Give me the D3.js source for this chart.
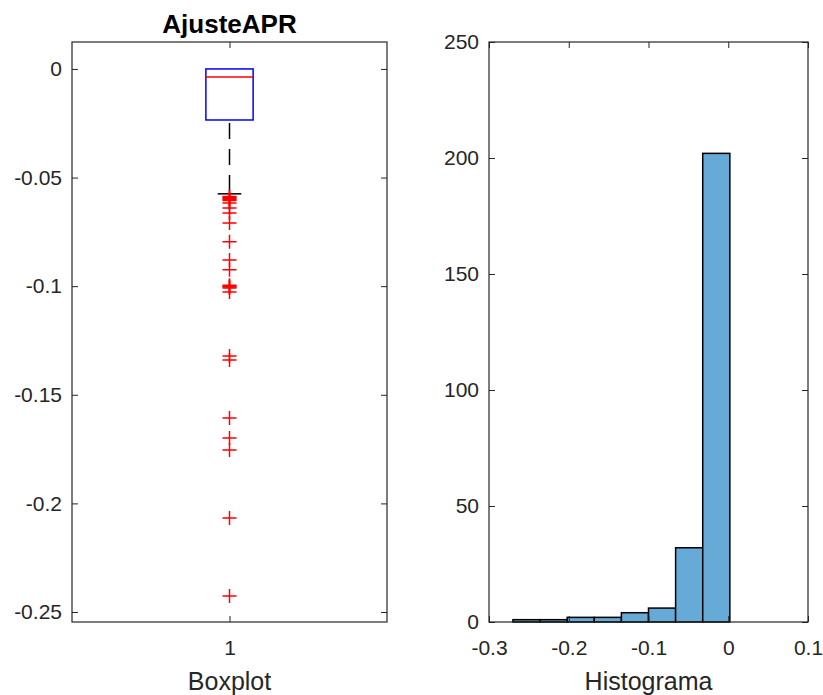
<!DOCTYPE html>
<html>
<head>
<meta charset="utf-8">
<script src="https://cdn.jsdelivr.net/npm/d3@7"></script>
<style>
  body { margin: 0; background: #fff; }
  svg { display: block; font-family: "Liberation Sans", Arial, sans-serif; }
  .frame { fill: none; stroke: #262626; stroke-width: 1.2; }
  .tick line { stroke: #262626; }
  .tick text { fill: #262626; font-size: 21px; }
  .axisText { fill: #262626; font-size: 25px; }
</style>
</head>
<body>
<div id="chart"></div>
<script>
// Boxplot summary (AjusteAPR)
var boxStats = { q1: -0.0235, median: -0.0037, q3: 0.0, whiskerLow: -0.0575, whiskerHigh: 0.0 };
var outliers = [-0.0587, -0.0591, -0.0596, -0.0601, -0.0606, -0.0617, -0.064, -0.0663, -0.0709,
  -0.0796, -0.0879, -0.0925, -0.0996, -0.1000, -0.1004, -0.1008, -0.1027, -0.1321, -0.1340,
  -0.1607, -0.1699, -0.1754, -0.2067, -0.2426];
var boxTicks = [0, -0.05, -0.1, -0.15, -0.2, -0.25];
var boxTickLabels = ["0", "-0.05", "-0.1", "-0.15", "-0.2", "-0.25"];

// Histogram bins
var binEdges = [-0.27, -0.236, -0.202, -0.168, -0.134, -0.1, -0.066, -0.032, 0.002];
var binCounts = [1, 1, 2, 2, 4, 6, 32, 202];
var histXTicks = [-0.3, -0.2, -0.1, 0, 0.1];
var histXTickLabels = ["-0.3", "-0.2", "-0.1", "0", "0.1"];
var histYTicks = [0, 50, 100, 150, 200, 250];

var svgWidth = 823, svgHeight = 695;
var plotTop = 42, plotBottom = 622;

var svg = d3.select("#chart").append("svg")
  .attr("width", svgWidth)
  .attr("height", svgHeight);

// ---------- Left: boxplot ----------
var left = { x0: 72, x1: 387 };
var xBox = d3.scaleLinear().domain([0.5, 1.5]).range([left.x0, left.x1]);
var yBox = d3.scaleLinear().domain([-0.2546, 0.0124]).range([plotBottom, plotTop]);

var g1 = svg.append("g");

g1.append("g")
  .attr("transform", `translate(${left.x0},0)`)
  .call(d3.axisLeft(yBox).tickValues(boxTicks).tickSizeInner(-6).tickSizeOuter(0)
    .tickPadding(10).tickFormat((d, i) => boxTickLabels[i]))
  .call(g => g.select(".domain").remove());
g1.append("g")
  .attr("transform", `translate(${left.x1},0)`)
  .call(d3.axisRight(yBox).tickValues(boxTicks).tickSizeInner(-6).tickSizeOuter(0).tickFormat(""))
  .call(g => g.select(".domain").remove());
g1.append("g")
  .attr("transform", `translate(0,${plotBottom})`)
  .call(d3.axisBottom(xBox).tickValues([1]).tickSizeInner(-6).tickSizeOuter(0).tickPadding(18)
    .tickFormat(d3.format("d")))
  .call(g => g.select(".domain").remove());
g1.append("g")
  .attr("transform", `translate(0,${plotTop})`)
  .call(d3.axisTop(xBox).tickValues([1]).tickSizeInner(-6).tickSizeOuter(0).tickFormat(""))
  .call(g => g.select(".domain").remove());

g1.append("rect").attr("class", "frame")
  .attr("x", left.x0).attr("y", plotTop)
  .attr("width", left.x1 - left.x0).attr("height", plotBottom - plotTop);

var bw = 0.075;
// whisker
g1.append("line")
  .attr("x1", xBox(1)).attr("x2", xBox(1))
  .attr("y1", yBox(boxStats.q1)).attr("y2", yBox(boxStats.whiskerLow))
  .attr("stroke", "#000").attr("stroke-width", 1.5)
  .attr("stroke-dasharray", "16,10").attr("stroke-dashoffset", -3);
g1.append("line")
  .attr("x1", xBox(1 - bw / 2)).attr("x2", xBox(1 + bw / 2))
  .attr("y1", yBox(boxStats.whiskerLow)).attr("y2", yBox(boxStats.whiskerLow))
  .attr("stroke", "#000").attr("stroke-width", 1.5);
// box
g1.append("rect")
  .attr("x", xBox(1 - bw)).attr("width", xBox(1 + bw) - xBox(1 - bw))
  .attr("y", yBox(boxStats.q3)).attr("height", yBox(boxStats.q1) - yBox(boxStats.q3))
  .attr("fill", "none").attr("stroke", "#0000ff").attr("stroke-width", 1.5);
g1.append("line")
  .attr("x1", xBox(1 - bw)).attr("x2", xBox(1 + bw))
  .attr("y1", yBox(boxStats.median)).attr("y2", yBox(boxStats.median))
  .attr("stroke", "#ff0000").attr("stroke-width", 1.5);
// outliers
g1.append("g").selectAll("path")
  .data(outliers)
  .enter()
  .append("path")
  .attr("d", d => {
    var cx = xBox(1), cy = yBox(d), s = 7;
    return `M${cx - s},${cy}H${cx + s}M${cx},${cy - s}V${cy + s}`;
  })
  .attr("stroke", "#ff0000").attr("stroke-width", 1.5).attr("fill", "none");

g1.append("text")
  .attr("x", (left.x0 + left.x1) / 2).attr("y", 33)
  .attr("text-anchor", "middle")
  .style("font-size", "26px").style("font-weight", "bold").attr("fill", "#000")
  .text("AjusteAPR");
g1.append("text")
  .attr("class", "axisText")
  .attr("x", (left.x0 + left.x1) / 2).attr("y", 690)
  .attr("text-anchor", "middle")
  .text("Boxplot");

// ---------- Right: histogram ----------
var right = { x0: 489, x1: 808 };
var xHist = d3.scaleLinear().domain([-0.3, 0.1]).range([right.x0, right.x1]);
var yHist = d3.scaleLinear().domain([0, 250]).range([plotBottom, plotTop]);

var g2 = svg.append("g");

var bins = binCounts.map((c, i) => ({ x0: binEdges[i], x1: binEdges[i + 1], count: c }));
g2.append("g").selectAll("rect")
  .data(bins)
  .enter()
  .append("rect")
  .attr("x", d => xHist(d.x0))
  .attr("width", d => xHist(d.x1) - xHist(d.x0))
  .attr("y", d => yHist(d.count))
  .attr("height", d => yHist(0) - yHist(d.count))
  .attr("fill", "#66aad7")
  .attr("stroke", "#000")
  .attr("stroke-width", 1.5);

g2.append("g")
  .attr("transform", `translate(${right.x0},0)`)
  .call(d3.axisLeft(yHist).tickValues(histYTicks).tickSizeInner(-6).tickSizeOuter(0).tickPadding(10))
  .call(g => g.select(".domain").remove());
g2.append("g")
  .attr("transform", `translate(${right.x1},0)`)
  .call(d3.axisRight(yHist).tickValues(histYTicks).tickSizeInner(-6).tickSizeOuter(0).tickFormat(""))
  .call(g => g.select(".domain").remove());
g2.append("g")
  .attr("transform", `translate(0,${plotBottom})`)
  .call(d3.axisBottom(xHist).tickValues(histXTicks).tickSizeInner(-6).tickSizeOuter(0)
    .tickPadding(18).tickFormat((d, i) => histXTickLabels[i]))
  .call(g => g.select(".domain").remove());
g2.append("g")
  .attr("transform", `translate(0,${plotTop})`)
  .call(d3.axisTop(xHist).tickValues(histXTicks).tickSizeInner(-6).tickSizeOuter(0).tickFormat(""))
  .call(g => g.select(".domain").remove());

g2.append("rect").attr("class", "frame")
  .attr("x", right.x0).attr("y", plotTop)
  .attr("width", right.x1 - right.x0).attr("height", plotBottom - plotTop);

g2.append("text")
  .attr("class", "axisText")
  .attr("x", (right.x0 + right.x1) / 2).attr("y", 690)
  .attr("text-anchor", "middle")
  .text("Histograma");
</script>
</body>
</html>
